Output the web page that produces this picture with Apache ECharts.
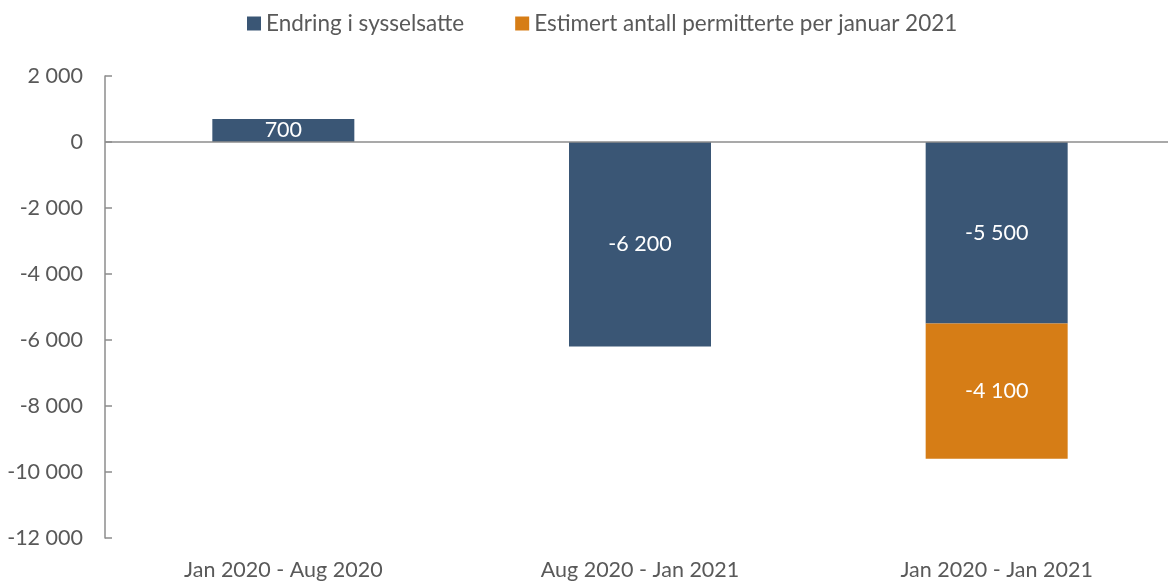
<!DOCTYPE html>
<html><head><meta charset="utf-8">
<script src="https://cdn.jsdelivr.net/npm/echarts@6/dist/echarts.min.js"></script>
<style>html,body{margin:0;padding:0;background:#fff;overflow:hidden}#c{width:1176px;height:581px}</style>
</head><body><div id="c"></div>
<script>
const categories = ['Jan 2020 - Aug 2020', 'Aug 2020 - Jan 2021', 'Jan 2020 - Jan 2021'];
const seriesNames = ['Endring i sysselsatte', 'Estimert antall permitterte per januar 2021'];
const endring = [700, -6200, -5500];
const permitterte = [null, null, -4100];
const yTicks = { min: -12000, max: 2000, interval: 2000 };

function fmt(v){
  const s = Math.abs(Math.round(v)).toString().replace(/\B(?=(\d{3})+(?!\d))/g, ' ');
  return (v < 0 ? '-' : '') + s;
}
const FONT = 'Lato';
const FS = 21.5;
const chart = echarts.init(document.getElementById('c'));
chart.setOption({
  animation: false,
  textStyle: { fontFamily: FONT },
  legend: {
    top: 7, left: 242, itemWidth: 14, itemHeight: 14, itemGap: 51,
    icon: 'rect',
    textStyle: { fontFamily: FONT, fontSize: 22.5, color: '#595959' },
    data: seriesNames
  },
  grid: { left: 105, right: 1, top: 76, bottom: 43 },
  xAxis: {
    type: 'category', data: categories,
    axisLine: { show: false, onZero: false },
    axisTick: { show: false },
    axisLabel: { fontFamily: FONT, fontSize: FS, color: '#595959', margin: 21 }
  },
  yAxis: {
    type: 'value', min: yTicks.min, max: yTicks.max, interval: yTicks.interval,
    axisLine: { show: true, lineStyle: { color: '#8c8c8c', width: 1.5 } },
    axisTick: { show: true, inside: true, length: 7, lineStyle: { color: '#8c8c8c', width: 1.5 } },
    splitLine: { show: false },
    axisLabel: { fontFamily: FONT, fontSize: FS, color: '#595959', margin: 22, formatter: fmt }
  },
  series: [
    {
      name: seriesNames[0], type: 'bar', stack: 's', data: endring, barWidth: 142,
      itemStyle: { color: '#3A5675' },
      label: { show: true, position: 'inside', color: '#fff', fontFamily: FONT, fontSize: FS, formatter: p => fmt(p.value) },
      markLine: {
        silent: true, symbol: 'none', label: { show: false },
        lineStyle: { color: '#8c8c8c', width: 1.5, type: 'solid' },
        data: [{ yAxis: 0 }]
      }
    },
    {
      name: seriesNames[1], type: 'bar', stack: 's', data: permitterte, barWidth: 142,
      itemStyle: { color: '#D67D16' },
      label: { show: true, position: 'inside', color: '#fff', fontFamily: FONT, fontSize: FS, formatter: p => fmt(p.value) }
    }
  ]
});
</script></body></html>
